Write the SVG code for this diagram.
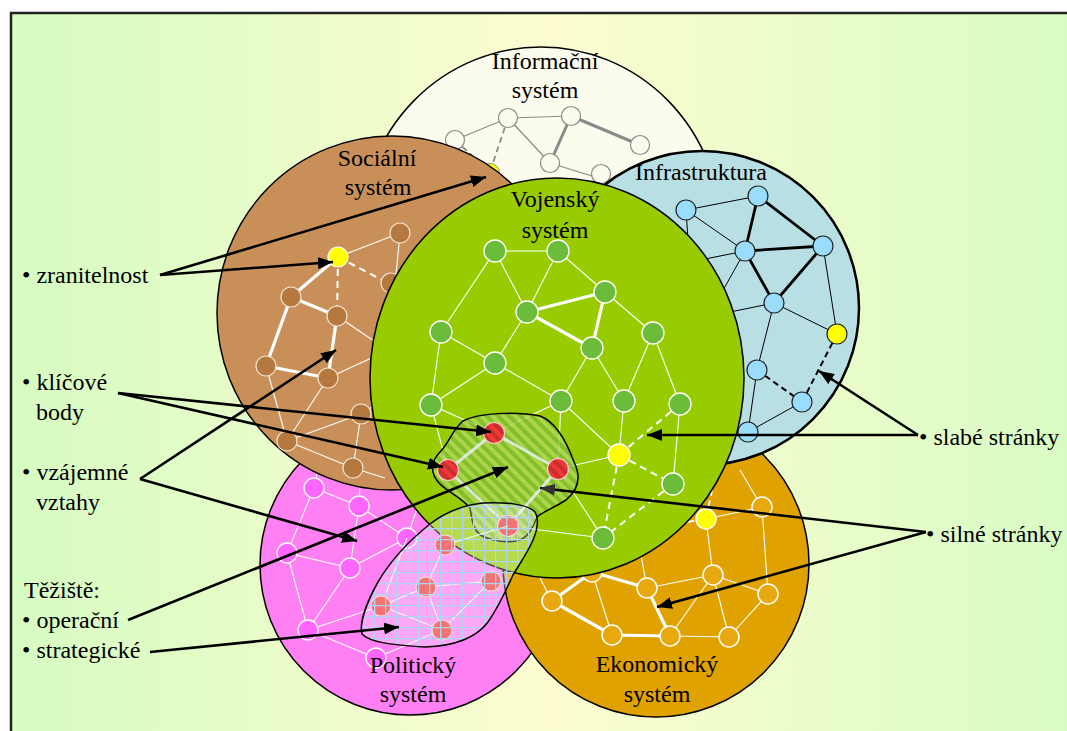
<svg xmlns="http://www.w3.org/2000/svg" width="1067" height="731" viewBox="0 0 1067 731" font-family="'Liberation Serif', 'Times New Roman', 'DejaVu Serif', serif">
<defs>
<linearGradient id="bg" x1="0" y1="0" x2="1" y2="0">
<stop offset="0" stop-color="#d6fcc2"/>
<stop offset="0.5" stop-color="#fcfcd0"/>
<stop offset="1" stop-color="#d8fcc4"/>
</linearGradient>
<pattern id="stripes" width="8" height="8" patternUnits="userSpaceOnUse" patternTransform="rotate(-45)">
<rect width="8" height="8" fill="#b0d85c"/>
<rect width="4" height="8" fill="#7fba36"/>
</pattern>
<pattern id="dstripes" width="8" height="8" patternUnits="userSpaceOnUse" patternTransform="rotate(-45)">
<rect width="4" height="8" fill="#000" fill-opacity="0.16"/>
</pattern>
<pattern id="grid" width="11" height="11" patternUnits="userSpaceOnUse">
<path d="M0,0.5 H11 M0.5,0 V11" stroke="#b0d4f4" stroke-width="1.6" fill="none"/>
</pattern>
<marker id="ah" markerUnits="userSpaceOnUse" markerWidth="16" markerHeight="12" refX="15" refY="6" orient="auto">
<path d="M0,0 L15,6 L0,12 z" fill="#000"/>
</marker>
<marker id="ahg" markerUnits="userSpaceOnUse" markerWidth="16" markerHeight="12" refX="15" refY="6" orient="auto">
<path d="M0,0 L15,6 L0,12 z" fill="#333"/>
</marker>
</defs>
<style>
text{font-family:'Liberation Serif','Times New Roman','DejaVu Serif',serif;font-size:24px;fill:#000}
.lab{text-anchor:middle}
.sys{stroke:#000;stroke-width:1.5}
.wn{fill:#fcfcee;stroke:#8a8a8a;stroke-width:1.2}
.wt{stroke:#8a8a8a;stroke-width:1.2;fill:none}
.wT{stroke:#8a8a8a;stroke-width:3;fill:none}
.wd{stroke:#8a8a8a;stroke-width:1.8;stroke-dasharray:6,4;fill:none}
.bn{fill:#b5783e;stroke:#f4e4d0;stroke-width:1.2}
.el{stroke:#fff;stroke-width:1.1;fill:none}
.eT{stroke:#fff;stroke-width:3.2;fill:none}
.ed{stroke:#fff;stroke-width:2;stroke-dasharray:7,5;fill:none}
.in{fill:#99dcfc;stroke:#222;stroke-width:1.2}
.it{stroke:#000;stroke-width:1;fill:none}
.iT{stroke:#000;stroke-width:2.8;fill:none}
.id{stroke:#000;stroke-width:2;stroke-dasharray:6,4;fill:none}
.gn{fill:#6abc3a;stroke:#fff;stroke-width:1.3}
.rn{fill:#f03838;stroke:#ffd0d0;stroke-width:1.2}
.rl{stroke:#e4f0f4;stroke-width:3;fill:none;opacity:0.85}
.pn{fill:#ff66ff;stroke:#fff;stroke-width:1.3}
.on{fill:#e8a810;stroke:#fff;stroke-width:1.5}
.yn{fill:#ffff00}
.ar{stroke:#000;stroke-width:2.6;fill:none;marker-end:url(#ah)}
.arg{stroke:#000;stroke-width:2.6;fill:none;marker-end:url(#ahg)}
</style>

<rect x="0" y="0" width="1067" height="731" fill="#fff"/>
<rect x="11" y="13" width="1070" height="730" fill="url(#bg)" stroke="#222" stroke-width="2.5"/>

<g id="informacni">
<ellipse cx="541" cy="231" rx="180" ry="184" class="sys" fill="#fcfcee"/>
<line x1="455" y1="140" x2="508" y2="118" class="wt"/>
<line x1="508" y1="118" x2="571" y2="116" class="wt"/>
<line x1="508" y1="118" x2="550" y2="163" class="wt"/>
<line x1="571" y1="116" x2="640" y2="145" class="wT"/>
<line x1="571" y1="116" x2="550" y2="163" class="wT"/>
<line x1="550" y1="163" x2="605" y2="180" class="wt"/>
<line x1="455" y1="140" x2="438" y2="160" class="wt"/>
<line x1="508" y1="118" x2="490" y2="172" class="wd"/>
<line x1="455" y1="140" x2="490" y2="172" class="wd"/>
<circle cx="455" cy="140" r="9.5" class="wn"/>
<circle cx="508" cy="118" r="9.5" class="wn"/>
<circle cx="571" cy="116" r="9.5" class="wn"/>
<circle cx="640" cy="145" r="9.5" class="wn"/>
<circle cx="550" cy="163" r="9.5" class="wn"/>
<circle cx="601" cy="174" r="9.5" class="wn"/>
<circle cx="490" cy="173" r="9.5" class="yn" stroke="#8a8a8a"/>
<text x="545" y="69" class="lab" font-family="'Liberation Serif', serif">Informační</text>
<text x="545" y="98" class="lab" font-family="'Liberation Serif', serif">systém</text>
</g>

<g id="politicky">
<circle cx="410" cy="565" r="150" class="sys" fill="#ff80f2"/>
<line x1="314" y1="488" x2="359" y2="506" class="el"/>
<line x1="314" y1="488" x2="287" y2="553" class="el"/>
<line x1="314" y1="488" x2="318" y2="468" class="el"/>
<line x1="359" y1="506" x2="407" y2="538" class="el"/>
<line x1="359" y1="506" x2="350" y2="568" class="el"/>
<line x1="359" y1="506" x2="360" y2="480" class="el"/>
<line x1="287" y1="553" x2="350" y2="568" class="el"/>
<line x1="287" y1="553" x2="308" y2="630" class="el"/>
<line x1="350" y1="568" x2="308" y2="630" class="el"/>
<line x1="407" y1="538" x2="350" y2="568" class="el"/>
<line x1="407" y1="538" x2="420" y2="500" class="el"/>
<line x1="308" y1="630" x2="381" y2="606" class="el"/>
<line x1="308" y1="630" x2="376" y2="658" class="el"/>
<line x1="376" y1="658" x2="441" y2="630" class="el"/>
<circle cx="314" cy="488" r="10" class="pn"/>
<circle cx="359" cy="506" r="10" class="pn"/>
<circle cx="407" cy="538" r="10" class="pn"/>
<circle cx="287" cy="553" r="10" class="pn"/>
<circle cx="350" cy="568" r="10" class="pn"/>
<circle cx="308" cy="630" r="10" class="pn"/>
<circle cx="376" cy="658" r="10" class="pn"/>
<text x="413" y="673" class="lab" font-family="'Liberation Serif', serif">Politický</text>
<text x="413" y="702" class="lab" font-family="'Liberation Serif', serif">systém</text>
</g>

<g id="socialni">
<ellipse cx="392" cy="313" rx="175" ry="177" class="sys" fill="#c89058"/>
<line x1="400" y1="233" x2="338" y2="257" class="el"/>
<line x1="400" y1="233" x2="396" y2="275" class="el"/>
<line x1="338" y1="257" x2="392" y2="285" class="ed"/>
<line x1="338" y1="257" x2="337" y2="316" class="ed"/>
<line x1="338" y1="257" x2="291" y2="297" class="eT"/>
<line x1="291" y1="297" x2="337" y2="316" class="eT"/>
<line x1="291" y1="297" x2="266" y2="366" class="eT"/>
<line x1="337" y1="316" x2="328" y2="378" class="eT"/>
<line x1="266" y1="366" x2="328" y2="378" class="eT"/>
<line x1="337" y1="316" x2="380" y2="345" class="el"/>
<line x1="328" y1="378" x2="378" y2="355" class="el"/>
<line x1="266" y1="366" x2="287" y2="441" class="el"/>
<line x1="328" y1="378" x2="287" y2="441" class="el"/>
<line x1="287" y1="441" x2="361" y2="414" class="el"/>
<line x1="361" y1="414" x2="380" y2="402" class="el"/>
<line x1="361" y1="414" x2="353" y2="468" class="el"/>
<line x1="287" y1="441" x2="353" y2="468" class="el"/>
<line x1="353" y1="468" x2="385" y2="478" class="el"/>
<circle cx="400" cy="233" r="10" class="bn"/>
<circle cx="391" cy="283" r="10" class="bn"/>
<circle cx="291" cy="297" r="10" class="bn"/>
<circle cx="337" cy="316" r="10" class="bn"/>
<circle cx="266" cy="366" r="10" class="bn"/>
<circle cx="328" cy="378" r="10" class="bn"/>
<circle cx="361" cy="414" r="10" class="bn"/>
<circle cx="287" cy="441" r="10" class="bn"/>
<circle cx="353" cy="468" r="10" class="bn"/>
<circle cx="338" cy="257" r="10" class="yn" stroke="#fff" stroke-width="1.2"/>
<text x="377" y="166" class="lab" font-family="'Liberation Serif', serif">Sociální</text>
<text x="378" y="195" class="lab" font-family="'Liberation Serif', serif">systém</text>
</g>

<g id="ekonomicky">
<circle cx="656" cy="564" r="153" class="sys" fill="#e0a200"/>
<line x1="552" y1="601" x2="592" y2="572" class="eT" stroke-width="4"/>
<line x1="552" y1="601" x2="612" y2="635" class="eT" stroke-width="4"/>
<line x1="612" y1="635" x2="670" y2="636" class="eT" stroke-width="4"/>
<line x1="647" y1="588" x2="670" y2="636" class="eT" stroke-width="4"/>
<line x1="592" y1="572" x2="647" y2="588" class="eT" stroke-width="4"/>
<line x1="592" y1="572" x2="612" y2="635" class="el" stroke-width="2"/>
<line x1="647" y1="588" x2="713" y2="575" class="el" stroke-width="2"/>
<line x1="713" y1="575" x2="670" y2="636" class="el" stroke-width="2"/>
<line x1="713" y1="575" x2="729" y2="637" class="el" stroke-width="2"/>
<line x1="713" y1="575" x2="768" y2="594" class="el" stroke-width="2"/>
<line x1="768" y1="594" x2="729" y2="637" class="el" stroke-width="2"/>
<line x1="670" y1="636" x2="729" y2="637" class="el" stroke-width="2"/>
<line x1="706" y1="519" x2="713" y2="575" class="el" stroke-width="2"/>
<line x1="706" y1="519" x2="762" y2="507" class="el" stroke-width="2"/>
<line x1="762" y1="507" x2="768" y2="594" class="el" stroke-width="2"/>
<line x1="762" y1="507" x2="740" y2="470" class="el" stroke-width="2"/>
<line x1="647" y1="588" x2="641" y2="555" class="el" stroke-width="2"/>
<line x1="552" y1="601" x2="540" y2="578" class="el" stroke-width="2"/>
<line x1="706" y1="519" x2="712" y2="490" class="ed"/>
<line x1="706" y1="519" x2="680" y2="523" class="ed"/>
<circle cx="592" cy="572" r="10" class="on"/>
<circle cx="552" cy="601" r="10" class="on"/>
<circle cx="612" cy="635" r="10" class="on"/>
<circle cx="670" cy="636" r="10" class="on"/>
<circle cx="729" cy="637" r="10" class="on"/>
<circle cx="647" cy="588" r="10" class="on"/>
<circle cx="713" cy="575" r="10" class="on"/>
<circle cx="768" cy="594" r="10" class="on"/>
<circle cx="762" cy="507" r="10" class="on"/>
<circle cx="706" cy="519" r="10" class="yn" stroke="#fff" stroke-width="1.5"/>
<text x="657" y="672" class="lab" font-family="'Liberation Serif', serif">Ekonomický</text>
<text x="657" y="702" class="lab" font-family="'Liberation Serif', serif">systém</text>
</g>

<g id="infrastruktura">
<circle cx="702" cy="308" r="157" fill="#b8dfe4" stroke="#000" stroke-width="2.5"/>
<line x1="686" y1="210" x2="758" y2="196" class="it"/>
<line x1="686" y1="210" x2="745" y2="251" class="it"/>
<line x1="686" y1="210" x2="688" y2="240" class="it"/>
<line x1="758" y1="196" x2="745" y2="251" class="iT"/>
<line x1="758" y1="196" x2="823" y2="246" class="iT"/>
<line x1="745" y1="251" x2="823" y2="246" class="iT"/>
<line x1="745" y1="251" x2="774" y2="303" class="iT"/>
<line x1="823" y1="246" x2="774" y2="303" class="iT"/>
<line x1="823" y1="246" x2="837" y2="334" class="it"/>
<line x1="774" y1="303" x2="837" y2="334" class="it"/>
<line x1="774" y1="303" x2="757" y2="370" class="it"/>
<line x1="745" y1="251" x2="705" y2="259" class="it"/>
<line x1="745" y1="251" x2="722" y2="292" class="it"/>
<line x1="774" y1="303" x2="730" y2="312" class="it"/>
<line x1="757" y1="370" x2="748" y2="432" class="it"/>
<line x1="802" y1="402" x2="748" y2="432" class="it"/>
<line x1="837" y1="334" x2="802" y2="402" class="id"/>
<line x1="757" y1="370" x2="802" y2="402" class="id"/>
<circle cx="686" cy="210" r="10" class="in"/>
<circle cx="758" cy="196" r="10" class="in"/>
<circle cx="745" cy="251" r="10" class="in"/>
<circle cx="823" cy="246" r="10" class="in"/>
<circle cx="774" cy="303" r="10" class="in"/>
<circle cx="757" cy="370" r="10" class="in"/>
<circle cx="802" cy="402" r="10" class="in"/>
<circle cx="748" cy="432" r="10" class="in"/>
<circle cx="837" cy="334" r="10" class="yn" stroke="#222" stroke-width="1.2"/>
<text x="701" y="180" class="lab" font-family="'Liberation Serif', serif">Infrastruktura</text>
</g>

<g id="vojensky">
<ellipse cx="557" cy="378" rx="187" ry="200" class="sys" fill="#99cc00"/>
<line x1="495" y1="251" x2="558" y2="251" class="el"/>
<line x1="495" y1="251" x2="441" y2="332" class="el"/>
<line x1="495" y1="251" x2="527" y2="312" class="el"/>
<line x1="558" y1="251" x2="527" y2="312" class="el"/>
<line x1="558" y1="251" x2="605" y2="292" class="el"/>
<line x1="527" y1="312" x2="605" y2="292" class="eT" stroke-width="3.5"/>
<line x1="527" y1="312" x2="592" y2="348" class="eT" stroke-width="3.5"/>
<line x1="605" y1="292" x2="592" y2="348" class="eT" stroke-width="3.5"/>
<line x1="605" y1="292" x2="653" y2="333" class="el"/>
<line x1="527" y1="312" x2="495" y2="363" class="el"/>
<line x1="441" y1="332" x2="495" y2="363" class="el"/>
<line x1="441" y1="332" x2="431" y2="405" class="el"/>
<line x1="495" y1="363" x2="431" y2="405" class="el"/>
<line x1="495" y1="363" x2="561" y2="401" class="el"/>
<line x1="592" y1="348" x2="561" y2="401" class="el"/>
<line x1="592" y1="348" x2="624" y2="401" class="el"/>
<line x1="653" y1="333" x2="624" y2="401" class="el"/>
<line x1="653" y1="333" x2="680" y2="404" class="el"/>
<line x1="431" y1="405" x2="448" y2="470" class="el"/>
<line x1="431" y1="405" x2="494" y2="433" class="el"/>
<line x1="561" y1="401" x2="494" y2="433" class="el"/>
<line x1="561" y1="401" x2="558" y2="469" class="el"/>
<line x1="561" y1="401" x2="619" y2="455" class="el"/>
<line x1="624" y1="401" x2="619" y2="455" class="el"/>
<line x1="680" y1="404" x2="673" y2="484" class="el"/>
<line x1="619" y1="455" x2="558" y2="469" class="el"/>
<line x1="558" y1="469" x2="603" y2="538" class="el"/>
<line x1="508" y1="526" x2="603" y2="538" class="el"/>
<line x1="680" y1="404" x2="619" y2="455" class="ed"/>
<line x1="619" y1="455" x2="673" y2="484" class="ed"/>
<line x1="619" y1="455" x2="603" y2="538" class="ed"/>
<line x1="673" y1="484" x2="603" y2="538" class="ed"/>
<circle cx="495" cy="251" r="11" class="gn"/>
<circle cx="558" cy="251" r="11" class="gn"/>
<circle cx="605" cy="292" r="11" class="gn"/>
<circle cx="527" cy="312" r="11" class="gn"/>
<circle cx="441" cy="332" r="11" class="gn"/>
<circle cx="653" cy="333" r="11" class="gn"/>
<circle cx="592" cy="348" r="11" class="gn"/>
<circle cx="495" cy="363" r="11" class="gn"/>
<circle cx="431" cy="405" r="11" class="gn"/>
<circle cx="561" cy="401" r="11" class="gn"/>
<circle cx="624" cy="401" r="11" class="gn"/>
<circle cx="680" cy="404" r="11" class="gn"/>
<circle cx="673" cy="484" r="11" class="gn"/>
<circle cx="603" cy="538" r="11" class="gn"/>
<circle cx="619" cy="455" r="11" class="yn" stroke="#fff" stroke-width="1.3"/>
<text x="555" y="207" class="lab" font-family="'Liberation Serif', serif">Vojenský</text>
<text x="555" y="238" class="lab" font-family="'Liberation Serif', serif">systém</text>
</g>

<g id="operacni-teziste">
<path d="M463,421 C478,413 515,411 540,416 C556,422 566,440 574,462 C582,478 578,490 566,500 C552,509 544,511 537,517 C533,528 528,538 517,541 C503,543 490,540 480,535 C472,528 472,518 470,508 C462,498 448,492 440,484 C430,474 430,462 440,452 C450,442 452,430 463,421 Z" fill="url(#stripes)" fill-opacity="0.8" stroke="#000" stroke-width="1.5"/>
<line x1="494" y1="433" x2="448" y2="470" class="rl"/>
<line x1="494" y1="433" x2="558" y2="469" class="rl"/>
<line x1="448" y1="470" x2="508" y2="526" class="rl"/>
<line x1="558" y1="469" x2="508" y2="526" class="rl"/>
<circle cx="494" cy="433" r="10.5" class="rn"/>
<circle cx="448" cy="470" r="10.5" class="rn"/>
<circle cx="558" cy="469" r="10.5" class="rn"/>
<circle cx="508" cy="526" r="10.5" class="rn"/>
<circle cx="494" cy="433" r="10" fill="url(#dstripes)"/>
<circle cx="448" cy="470" r="10" fill="url(#dstripes)"/>
<circle cx="558" cy="469" r="10" fill="url(#dstripes)"/>
</g>

<g id="cervene-uzly">
<line x1="445" y1="545" x2="426" y2="587" class="el"/>
<line x1="426" y1="587" x2="491" y2="581" class="el"/>
<line x1="426" y1="587" x2="381" y2="606" class="el"/>
<line x1="426" y1="587" x2="442" y2="630" class="el"/>
<line x1="491" y1="581" x2="442" y2="630" class="el"/>
<line x1="381" y1="606" x2="442" y2="630" class="el"/>
<line x1="445" y1="545" x2="508" y2="526" class="el"/>
<line x1="381" y1="606" x2="407" y2="538" class="el"/>
<circle cx="445" cy="545" r="10" class="rn"/>
<circle cx="426" cy="587" r="10" class="rn"/>
<circle cx="491" cy="581" r="10" class="rn"/>
<circle cx="381" cy="606" r="10" class="rn"/>
<circle cx="442" cy="630" r="10" class="rn"/>
</g>

<g id="strategicke-teziste">
<path d="M535,512 C528,504 505,502 483,503 C465,505 448,510 430,524 C410,540 392,558 378,582 C368,600 359,622 362,634 C370,643 395,645 425,647 C455,646 476,638 488,622 C500,605 506,590 513,575 C522,560 536,540 537,526 C538,520 537,515 535,512 Z" fill="#ffffff" fill-opacity="0.3" stroke="none"/>
<path d="M535,512 C528,504 505,502 483,503 C465,505 448,510 430,524 C410,540 392,558 378,582 C368,600 359,622 362,634 C370,643 395,645 425,647 C455,646 476,638 488,622 C500,605 506,590 513,575 C522,560 536,540 537,526 C538,520 537,515 535,512 Z" fill="url(#grid)" stroke="#000" stroke-width="1.5"/>
</g>

<g id="connectors">
<line x1="160" y1="275" x2="486" y2="177" class="ar"/>
<line x1="160" y1="275" x2="333" y2="262" class="ar"/>
<line x1="118" y1="393" x2="491" y2="432" class="ar"/>
<line x1="118" y1="393" x2="443" y2="467" class="ar"/>
<line x1="140" y1="479" x2="336" y2="350" class="ar"/>
<line x1="140" y1="479" x2="357" y2="541" class="ar"/>
<line x1="128" y1="620" x2="508" y2="467" class="ar"/>
<line x1="150" y1="652" x2="399" y2="627" class="ar"/>
<line x1="918" y1="435" x2="819" y2="371" class="ar"/>
<line x1="918" y1="435" x2="647" y2="435" class="ar"/>
<line x1="926" y1="532" x2="540" y2="488" class="arg"/>
<line x1="926" y1="532" x2="657" y2="607" class="ar"/>
</g>

<g id="popisky" font-family="'Liberation Serif', serif">
<text x="22" y="283" font-family="'Liberation Serif', serif">• zranitelnost</text>
<text x="22" y="390" font-family="'Liberation Serif', serif">• klíčové</text>
<text x="36" y="420" font-family="'Liberation Serif', serif">body</text>
<text x="22" y="480" font-family="'Liberation Serif', serif">• vzájemné</text>
<text x="36" y="510" font-family="'Liberation Serif', serif">vztahy</text>
<text x="24" y="598" font-family="'Liberation Serif', serif">Těžiště:</text>
<text x="22" y="628" font-family="'Liberation Serif', serif">• operační</text>
<text x="22" y="658" font-family="'Liberation Serif', serif">• strategické</text>
<text x="919" y="445" font-family="'Liberation Serif', serif">• slabé stránky</text>
<text x="926" y="542" font-family="'Liberation Serif', serif">• silné stránky</text>
</g>
</svg>
